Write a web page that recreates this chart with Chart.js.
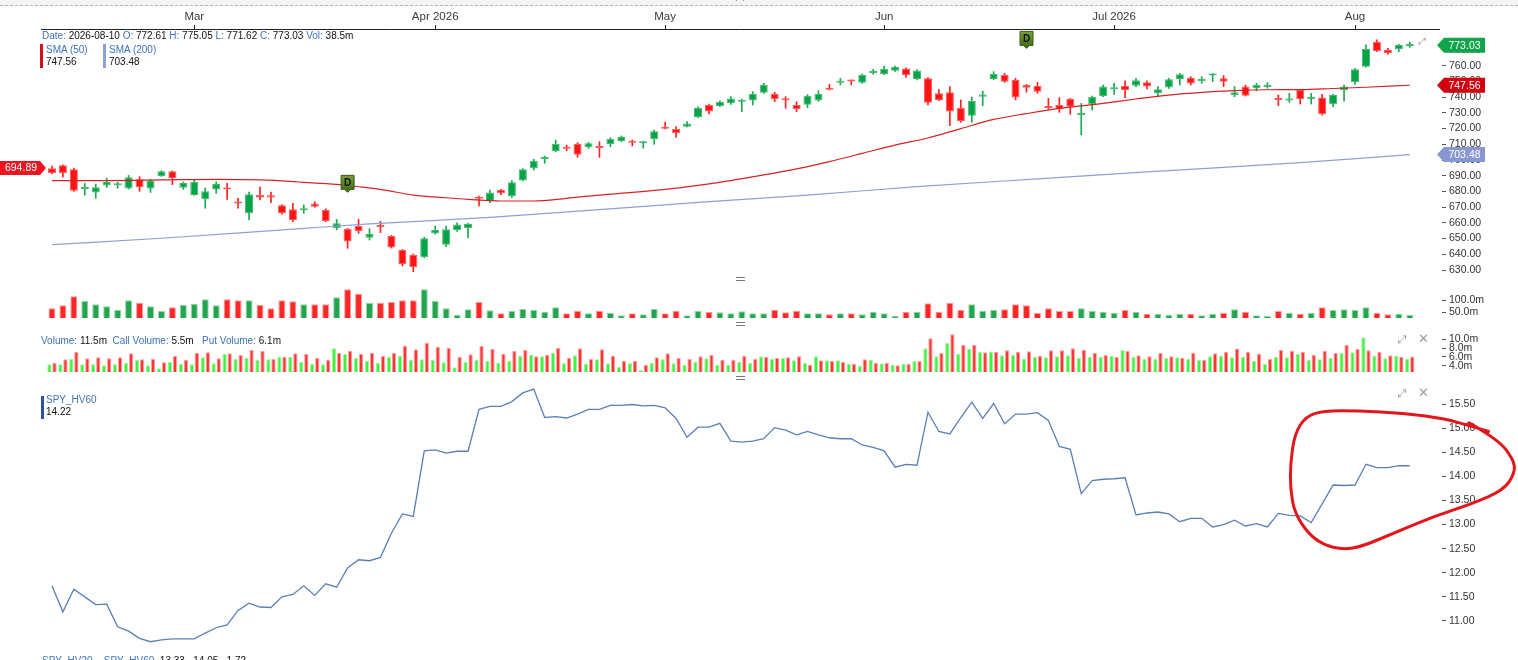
<!DOCTYPE html>
<html><head><meta charset="utf-8">
<script src="https://cdn.jsdelivr.net/npm/chart.js@4.4.1/dist/chart.umd.min.js"></script>
<style>
html,body{margin:0;padding:0;background:#fff;overflow:hidden}
body{width:1518px;height:660px;position:relative;font-family:"Liberation Sans",Arial,sans-serif}
canvas{position:absolute;left:0}
.t{position:absolute;font-size:10px;line-height:12px;color:#111;white-space:nowrap}
.b{color:#3d72b8}
.vb{position:absolute;width:3px}
.sep{position:absolute;left:736px;width:9px;height:2px;border-top:1.5px solid #777;border-bottom:1.5px solid #777}
.ic{position:absolute;color:#9a9a9a;font-family:"DejaVu Sans",sans-serif;font-size:11px;line-height:12px}
</style></head>
<body>
<div style="position:absolute;left:0;top:0;width:1518px;height:5px;background:#f4f4f4;border-bottom:1px dashed #b5b5b5"></div>
<div style="position:absolute;left:737px;top:-3px;width:5px;height:5px;border-left:1px solid #333;border-top:1px solid #333;transform:rotate(45deg)"></div>
<canvas id="cPrice" width="1518" height="282" style="top:0"></canvas>
<canvas id="cVol" width="1518" height="34" style="top:284px"></canvas>
<canvas id="cOpt" width="1518" height="42" style="top:330px"></canvas>
<canvas id="cHv" width="1518" height="276" style="top:384px"></canvas>

<div class="t" style="top:30px;left:42px"><span class="b">Date:</span> 2026-08-10 <span class="b">O:</span> 772.61 <span class="b">H:</span> 775.05 <span class="b">L:</span> 771.62 <span class="b">C:</span> 773.03 <span class="b">Vol:</span> 38.5m</div>
<div class="vb" style="left:40px;top:44px;height:24px;background:#d0101a"></div>
<div class="t b" style="top:44px;left:46px">SMA (50)</div>
<div class="t" style="top:56px;left:46px">747.56</div>
<div class="vb" style="left:103px;top:44px;height:24px;background:#8f9fd6"></div>
<div class="t b" style="top:44px;left:109px">SMA (200)</div>
<div class="t" style="top:56px;left:109px">703.48</div>
<div class="ic" style="left:1419px;top:35px;font-size:9px">⤢</div>

<div class="sep" style="top:277px"></div>
<div class="sep" style="top:322px"></div>
<div class="sep" style="top:376px"></div>

<div class="t" style="top:335px;left:41px"><span class="b">Volume:</span> 11.5m &nbsp;<span class="b">Call Volume:</span> 5.5m &nbsp; <span class="b">Put Volume:</span> 6.1m</div>
<div class="ic" style="left:1398px;top:334px">⤢</div>
<div class="ic" style="left:1418px;top:333px;font-size:13px">✕</div>

<div class="vb" style="left:41px;top:396px;height:23px;background:#2c5597"></div>
<div class="t b" style="top:394px;left:46px">SPY_HV60</div>
<div class="t" style="top:406px;left:46px">14.22</div>
<div class="ic" style="left:1398px;top:388px">⤢</div>
<div class="ic" style="left:1418px;top:387px;font-size:13px">✕</div>

<div class="t" style="top:655px;left:42px"><span class="b">SPY_HV20</span> &nbsp; &nbsp;<span class="b">SPY_HV60</span> &nbsp;13.33 &nbsp; 14.05 &nbsp; 1.72</div>

<script>
// ---------------- DATA ----------------
const dates = [
'2026-02-10','2026-02-11','2026-02-12','2026-02-13','2026-02-17','2026-02-18','2026-02-19','2026-02-20','2026-02-23','2026-02-24','2026-02-25','2026-02-26','2026-02-27',
'2026-03-02','2026-03-03','2026-03-04','2026-03-05','2026-03-06','2026-03-09','2026-03-10','2026-03-11','2026-03-12','2026-03-13','2026-03-16','2026-03-17','2026-03-18','2026-03-19','2026-03-20','2026-03-23','2026-03-24','2026-03-25','2026-03-26','2026-03-27','2026-03-30','2026-03-31',
'2026-04-01','2026-04-02','2026-04-06','2026-04-07','2026-04-08','2026-04-09','2026-04-10','2026-04-13','2026-04-14','2026-04-15','2026-04-16','2026-04-17','2026-04-20','2026-04-21','2026-04-22','2026-04-23','2026-04-24','2026-04-27','2026-04-28','2026-04-29','2026-04-30',
'2026-05-01','2026-05-04','2026-05-05','2026-05-06','2026-05-07','2026-05-08','2026-05-11','2026-05-12','2026-05-13','2026-05-14','2026-05-15','2026-05-18','2026-05-19','2026-05-20','2026-05-21','2026-05-22','2026-05-26','2026-05-27','2026-05-28','2026-05-29',
'2026-06-01','2026-06-02','2026-06-03','2026-06-04','2026-06-05','2026-06-08','2026-06-09','2026-06-10','2026-06-11','2026-06-12','2026-06-15','2026-06-16','2026-06-17','2026-06-18','2026-06-22','2026-06-23','2026-06-24','2026-06-25','2026-06-26','2026-06-29','2026-06-30',
'2026-07-01','2026-07-02','2026-07-06','2026-07-07','2026-07-08','2026-07-09','2026-07-10','2026-07-13','2026-07-14','2026-07-15','2026-07-16','2026-07-17','2026-07-20','2026-07-21','2026-07-22','2026-07-23','2026-07-24','2026-07-27','2026-07-28','2026-07-29','2026-07-30','2026-07-31',
'2026-08-03','2026-08-04','2026-08-05','2026-08-06','2026-08-07','2026-08-10'];

const monthLabels = {'03':'Mar','04':'Apr 2026','05':'May','06':'Jun','07':'Jul 2026','08':'Aug'};

const open = [
694.7,696.6,694.1,681.6,679.4,683.7,683.9,681.8,687.7,681.8,
689.8,692.8,682.4,677.7,675.0,681.3,682.2,673.5,666.1,677.7,
677.5,671.2,668.6,668.0,672.4,668.2,656.5,656.1,658.0,650.6,
658.6,651.6,642.7,639.6,638.1,653.3,646.1,655.5,656.5,676.5,
673.9,680.9,677.1,686.9,694.7,700.6,705.7,708.3,710.2,708.1,
708.9,710.2,712.1,711.9,710.6,713.4,720.8,719.7,721.2,727.4,
735.0,734.4,736.1,737.1,737.8,742.8,742.0,739.2,735.0,735.2,
737.8,745.6,749.2,750.7,749.2,755.4,754.7,756.8,758.2,751.6,
752.0,742.4,743.1,733.3,728.2,740.3,751.5,754.1,750.9,747.7,
747.3,733.9,735.0,738.8,728.6,735.4,740.7,745.0,747.3,747.3,
749.4,742.4,746.2,751.5,752.4,750.3,753.7,752.0,741.4,746.7,
745.6,746.4,739.2,737.8,744.5,738.6,739.7,735.4,744.5,749.4,
759.4,775.3,770.0,770.6,772.61];
const high = [
696.2,697.0,694.9,685.1,684.7,688.5,686.0,690.2,689.4,687.7,
693.2,693.0,686.0,687.3,682.2,686.2,685.1,675.6,679.6,683.0,
679.6,671.6,672.4,671.4,673.5,669.0,662.2,656.5,662.2,656.3,
661.0,652.0,643.0,640.2,650.8,658.0,658.0,660.1,659.7,677.0,
680.9,681.3,686.9,694.5,700.4,702.5,712.7,709.5,711.0,711.2,
711.7,714.2,715.3,712.7,711.9,719.1,724.2,721.2,724.4,733.9,
735.6,737.7,740.3,738.6,743.5,748.8,743.1,740.3,737.1,741.6,
744.1,748.1,752.0,751.0,754.7,757.7,759.8,759.8,758.6,757.5,
752.4,745.0,746.7,738.2,740.1,743.9,756.2,755.1,752.0,748.1,
749.4,739.2,739.7,739.2,736.0,740.7,747.7,748.8,750.3,752.0,
750.3,746.7,752.0,755.1,753.0,753.0,755.1,753.7,746.7,747.7,
748.8,749.2,741.4,742.4,745.0,742.4,741.8,741.8,747.7,758.3,
773.2,776.4,771.1,773.6,775.05];
const low = [
691.1,689.0,680.0,677.7,675.6,682.6,682.0,681.5,680.1,679.4,
689.6,684.3,681.3,677.5,669.3,678.8,675.0,669.3,661.8,674.6,
672.8,665.6,660.8,666.1,669.9,660.8,655.5,643.8,653.3,649.1,
653.8,644.0,632.6,628.9,637.9,652.9,644.9,654.6,650.4,670.8,
672.9,677.9,676.2,686.7,693.6,697.9,705.3,705.9,701.7,707.4,
701.7,708.5,711.7,708.9,707.6,710.0,719.7,714.4,721.0,726.9,
729.3,733.9,735.4,730.8,735.0,742.4,737.1,732.9,730.8,733.3,
737.3,744.5,747.7,747.7,748.8,754.5,754.3,756.4,752.5,750.9,
735.0,737.8,721.8,724.0,724.0,734.6,751.1,749.4,738.2,743.1,
742.4,732.4,730.3,729.1,715.9,731.8,740.3,741.8,739.7,746.7,
745.2,740.3,745.6,747.7,747.7,748.8,749.8,746.7,740.3,740.7,
743.9,745.6,734.6,736.7,735.6,735.6,728.6,733.9,737.5,748.1,
759.0,768.9,767.4,768.9,771.62];
const close = [
691.5,691.5,680.5,681.9,682.6,686.0,684.7,689.0,682.6,686.9,
692.8,688.5,685.4,686.0,680.1,684.7,681.3,672.4,678.2,676.2,
676.2,666.1,661.8,668.8,670.3,661.2,659.7,648.2,654.6,652.9,
657.2,644.4,633.6,631.7,650.2,655.5,655.9,658.9,659.3,675.3,
679.4,678.8,685.8,694.1,699.6,701.7,710.2,707.2,703.4,710.6,
707.6,713.6,714.6,711.0,711.7,718.3,719.9,717.0,723.3,733.3,
730.8,737.1,739.2,738.2,742.0,747.9,738.6,738.0,732.5,740.9,
742.0,744.7,750.3,749.9,754.1,756.2,758.1,759.4,754.0,757.0,
736.5,738.2,730.8,724.8,737.5,741.6,754.7,749.8,739.7,746.0,
743.5,733.1,732.4,733.9,729.5,740.3,746.7,746.0,744.5,750.7,
746.7,745.0,751.3,754.5,748.6,751.3,754.5,749.8,743.1,740.9,
747.7,747.3,738.2,738.6,738.6,740.3,729.1,741.4,746.7,757.7,
770.6,769.4,767.9,773.2,773.03];

// volume (millions)
const volume = [
65.2,77.7,115.2,95.8,81.9,73.6,58.3,98.6,88.9,73.6,
54.1,69.4,80.5,84.7,102.7,77.7,102.7,98.6,98.6,80.5,
65.2,98.6,94.4,81.9,81.9,81.9,111.1,144.4,126.4,88.9,
88.9,91.6,98.6,98.6,144.4,95.8,65.2,38.9,61.1,92.0,
57.5,44.4,54.1,62.5,58.3,51.4,69.4,44.4,55.5,44.4,
55.5,47.2,36.1,44.4,40.2,62.5,44.4,55.5,36.1,55.5,
51.4,48.6,44.4,52.7,44.4,44.4,59.7,48.6,55.5,44.4,
44.4,40.2,44.4,44.4,40.2,51.4,44.4,33.3,51.4,51.4,
86.1,51.4,88.9,59.7,81.9,55.5,58.3,61.1,81.9,77.7,
47.2,65.2,54.1,54.1,65.2,54.1,51.4,47.2,58.3,51.4,
43.0,43.0,38.9,43.0,43.0,36.1,43.0,47.2,61.1,51.4,
36.1,33.3,54.1,47.2,43.0,47.2,69.4,58.3,61.1,58.3,
69.4,47.2,40.2,43.0,38.5];

// option volume (millions)
const callVolume = [
4.31,4.31,5.53,4.31,4.31,4.09,4.31,4.69,5.30,4.09,
3.40,4.85,4.39,4.31,5.90,4.54,6.66,5.53,5.83,5.30,
5.45,6.06,6.06,4.92,4.39,4.31,7.95,6.66,5.75,5.07,
4.69,6.06,6.28,5.30,5.45,5.30,4.77,3.63,4.85,5.30,
5.10,4.69,5.07,6.28,6.44,6.13,6.97,4.54,6.36,4.47,
5.45,4.54,3.71,4.54,3.02,4.69,5.45,4.54,4.16,4.92,
5.68,4.16,4.16,4.92,4.69,6.13,5.53,5.75,5.22,4.69,
6.13,5.22,5.22,4.47,4.01,5.30,4.54,4.24,4.47,5.07,
7.95,6.13,9.16,6.74,7.80,7.12,7.23,6.36,6.44,5.60,
5.98,5.90,6.13,6.36,5.75,5.98,5.98,6.21,7.57,6.06,
5.53,5.60,5.83,5.90,5.53,5.30,6.13,6.28,5.90,6.06,
5.07,4.39,5.98,5.90,6.66,5.30,5.45,5.75,6.89,7.04,
10.45,6.28,5.68,6.28,5.5];
const putVolume = [
4.62,5.45,7.12,5.68,5.90,5.68,5.90,6.82,5.45,5.60,
4.77,6.21,5.30,6.97,7.04,5.68,6.82,6.44,7.57,7.34,
5.53,6.06,6.82,6.66,5.75,5.30,6.97,7.42,6.74,6.97,
6.21,6.97,8.56,7.72,9.24,8.33,8.10,6.06,6.59,8.50,
7.85,6.74,7.34,7.57,6.13,6.51,8.03,5.75,7.95,5.53,
7.72,6.28,5.15,5.15,4.24,5.90,6.82,5.75,5.53,6.13,
6.44,5.30,5.30,6.28,5.60,5.98,5.75,5.90,6.13,4.16,
5.22,5.07,4.85,4.47,5.45,4.69,4.69,4.09,4.47,5.07,
10.22,6.89,11.13,8.78,8.78,7.04,7.15,7.49,7.12,7.27,
6.28,7.49,7.49,7.95,7.65,6.97,6.44,5.98,7.34,6.36,
6.13,6.97,6.13,5.83,6.97,5.30,6.82,7.12,7.88,7.12,
6.74,5.53,7.57,7.42,7.19,6.51,7.42,6.89,8.78,7.80,
7.49,7.12,6.36,6.06,6.1];

const hv60 = [
11.73,11.19,11.66,11.50,11.34,11.35,10.88,10.79,10.64,10.57,
10.61,10.63,10.63,10.63,10.75,10.86,10.92,11.22,11.37,11.29,
11.28,11.50,11.55,11.73,11.53,11.77,11.70,12.10,12.27,12.25,
12.32,12.82,13.22,13.17,14.53,14.55,14.48,14.52,14.52,15.39,
15.45,15.45,15.55,15.73,15.81,15.22,15.24,15.21,15.29,15.39,
15.39,15.47,15.47,15.49,15.46,15.47,15.42,15.20,14.81,15.02,
15.02,15.10,14.73,14.71,14.73,14.78,15.01,14.96,14.86,14.93,
14.86,14.80,14.78,14.78,14.65,14.60,14.53,14.19,14.25,14.23,
15.33,14.93,14.88,15.22,15.54,15.20,15.51,15.09,15.29,15.29,
15.32,15.16,14.62,14.56,13.64,13.91,13.94,13.95,13.97,13.20,
13.24,13.26,13.22,13.06,13.13,13.13,12.95,13.00,13.09,12.97,
13.02,12.95,13.23,13.19,13.18,13.04,13.43,13.82,13.81,13.82,
14.25,14.18,14.18,14.22,14.22];

// moving averages read at sampled candles: [candle index, value]
const sma50 = [[0,686.9],[5,686.9],[10,687.3],[15,687.7],[19,687.3],[23,685.8],[26,684.5],[28,683.0],[30,681.3],[33,677.7],[36,676.0],[38,675.0],[41,673.9],[44,673.9],[47,675.6],[50,677.7],[53,679.4],[56,681.3],[59,683.9],[62,686.9],[65,690.5],[68,694.3],[71,699.0],[74,704.2],[77,709.5],[80,714.0],[83,720.0],[86,725.8],[89,729.5],[92,732.8],[96,736.0],[99,738.8],[102,741.3],[105,743.0],[108,744.1],[111,744.7],[114,744.8],[117,745.5],[120,746.3],[124,747.56]];
const sma200 = [[0,646.1],[10,650.2],[23,656.5],[29,659.3],[40,663.5],[50,668.4],[60,673.5],[69,677.7],[79,683.0],[90,688.0],[100,692.5],[114,698.3],[124,703.48]];

const dividendIdx = [27, 89];
const leftTagValue = 694.89;

const priceTicks = [630,640,650,660,670,680,690,700,710,720,730,740,750,760,770];
const volTicks = [50,100];
const optTicks = [4,6,8,10];
const hvTicks = [11,11.5,12,12.5,13,13.5,14,14.5,15,15.5];

// hand-drawn red ellipse on the HV panel, in [candle index, HV value]
const hvCircle = [[129.4,15.11],[132.1,14.76],[133.5,14.34],[133.6,14.07],[132.6,13.72],[129.8,13.44],[126.2,13.17],[122.5,12.82],[119.7,12.55],[117.9,12.48],[116.1,12.58],[114.7,12.82],[113.5,13.24],[113.1,13.72],[113.1,14.27],[113.5,14.89],[114.5,15.24],[116.1,15.36],[119.3,15.36],[123.4,15.31],[127.1,15.20],[129.8,15.03],[131.2,14.93]];

// ---------------- CHARTS ----------------
Chart.defaults.font.family = '"Liberation Sans", Arial, sans-serif';
Chart.defaults.animation = false;
Chart.defaults.events = [];
Chart.defaults.plugins.legend.display = false;
Chart.defaults.plugins.tooltip.enabled = false;

const N = dates.length;
const idx = dates.map((d, i) => i);
const up = idx.map(i => close[i] >= open[i]);
const monthStarts = idx.filter(i => i > 0 && dates[i].slice(5, 7) !== dates[i - 1].slice(5, 7));

function xAxis(extra) {
  return Object.assign({
    type: 'linear', min: -1, max: 126.67, offset: false, display: false, bounds: 'data',
    grid: {offset: false},
    afterFit(s) { s.paddingLeft = 0; s.paddingRight = 0; }
  }, extra || {});
}
function yAxis(min, max, ticks, fmt) {
  return {
    type: 'linear', position: 'right', min, max, bounds: 'data', beginAtZero: false,
    border: {display: false},
    grid: {drawOnChartArea: false, drawTicks: true, tickLength: 7, color: '#555', tickBorderDash: [0, 3, 4, 20]},
    ticks: {color: '#333', font: {size: 10.5}, padding: 3, autoSkip: false, callback: fmt},
    afterBuildTicks(s) { s.ticks = ticks.map(v => ({value: v})); },
    afterFit(s) { s.width = 79; s.paddingTop = 0; s.paddingBottom = 0; }
  };
}
const baseOpts = {responsive: false, maintainAspectRatio: false, layout: {padding: {left: 41, right: 0, top: 0, bottom: 0}}};

function tagLeft(ctx, tipX, py, text, color) {
  const h = 15, a = 7, w = 41;
  ctx.beginPath();
  ctx.moveTo(tipX, py);
  ctx.lineTo(tipX + a, py - h / 2);
  ctx.lineTo(tipX + a + w, py - h / 2);
  ctx.lineTo(tipX + a + w, py + h / 2);
  ctx.lineTo(tipX + a, py + h / 2);
  ctx.closePath();
  ctx.fillStyle = color; ctx.fill();
  ctx.fillStyle = '#fff'; ctx.font = '10.5px "Liberation Sans", Arial'; ctx.textAlign = 'center'; ctx.textBaseline = 'middle';
  ctx.fillText(text, tipX + a + w / 2, py + 0.5);
}
function tagRight(ctx, tipX, py, text, color) {
  const h = 14, a = 6, w = tipX - a;
  ctx.beginPath();
  ctx.moveTo(0, py - h / 2);
  ctx.lineTo(w, py - h / 2);
  ctx.lineTo(tipX, py);
  ctx.lineTo(w, py + h / 2);
  ctx.lineTo(0, py + h / 2);
  ctx.closePath();
  ctx.fillStyle = color; ctx.fill();
  ctx.fillStyle = '#fff'; ctx.font = '10.5px "Liberation Sans", Arial'; ctx.textAlign = 'center'; ctx.textBaseline = 'middle';
  ctx.fillText(text, w / 2 + 1, py + 0.5);
}
function drawD(ctx, px, tip) {
  const w = 13, h = 14, top = tip - 3 - h;
  const g = ctx.createLinearGradient(0, top, 0, top + h);
  g.addColorStop(0, '#789f3c'); g.addColorStop(1, '#44701a');
  ctx.beginPath();
  ctx.moveTo(px - w / 2, top); ctx.lineTo(px + w / 2, top); ctx.lineTo(px + w / 2, top + h);
  ctx.lineTo(px + 3, top + h); ctx.lineTo(px, tip); ctx.lineTo(px - 3, top + h);
  ctx.lineTo(px - w / 2, top + h); ctx.closePath();
  ctx.fillStyle = g; ctx.fill();
  ctx.strokeStyle = '#3a5c14'; ctx.lineWidth = 1; ctx.stroke();
  ctx.fillStyle = '#111'; ctx.font = 'bold 10px "Liberation Sans", Arial'; ctx.textAlign = 'center'; ctx.textBaseline = 'middle';
  ctx.fillText('D', px, top + h / 2 + 0.5);
}

const pricePlugin = {
  id: 'priceOverlay',
  afterDraw(chart) {
    const {ctx, chartArea} = chart;
    const x = chart.scales.x, y = chart.scales.y;
    ctx.save();
    dividendIdx.forEach(i => drawD(ctx, x.getPixelForValue(i), y.getPixelForValue(high[i]) - 36));
    const s200 = sma200[sma200.length - 1][1], s50 = sma50[sma50.length - 1][1];
    tagLeft(ctx, chartArea.right - 2, y.getPixelForValue(s200), s200.toFixed(2), '#8897d1');
    tagLeft(ctx, chartArea.right - 2, y.getPixelForValue(s50), s50.toFixed(2), '#d3000f');
    tagLeft(ctx, chartArea.right - 2, y.getPixelForValue(close[N - 1]), close[N - 1].toFixed(2), '#10a54a');
    tagRight(ctx, 46, y.getPixelForValue(leftTagValue), leftTagValue.toFixed(2), '#ee1520');
    ctx.restore();
  }
};

new Chart(document.getElementById('cPrice'), {
  type: 'bar',
  data: {datasets: [
    {type: 'line', data: sma50.map(([i, v]) => ({x: i, y: v})), borderColor: '#d62222', borderWidth: 1.2, pointRadius: 0, cubicInterpolationMode: 'monotone', order: 0},
    {type: 'line', data: sma200.map(([i, v]) => ({x: i, y: v})), borderColor: '#8e9ed6', borderWidth: 1.2, pointRadius: 0, cubicInterpolationMode: 'monotone', order: 0},
    {type: 'bar', data: idx.map(i => ({x: i, y: [open[i], close[i]]})),
      backgroundColor: up.map(u => u ? '#06a446' : '#ff1414'), borderColor: up.map(u => u ? '#45bb70' : '#ff5a5a'),
      borderWidth: 1, borderSkipped: false, grouped: false, categoryPercentage: 0.8, barPercentage: 0.92, minBarLength: 2, order: 1},
    {type: 'bar', data: idx.map(i => ({x: i, y: [low[i], high[i]]})),
      backgroundColor: up.map(u => u ? '#1aa850' : '#ff2020'), barThickness: 1, grouped: false, order: 2}
  ]},
  options: Object.assign({}, baseOpts, {
    scales: {
      x: xAxis({
        display: true, position: 'top',
        border: {display: true, color: '#222', width: 1},
        grid: {offset: false, drawOnChartArea: false, drawTicks: true, tickLength: 4, color: '#222'},
        ticks: {color: '#3a3a3a', font: {size: 11.5}, padding: 1, autoSkip: false, maxRotation: 0,
          callback: v => monthLabels[dates[v].slice(5, 7)]},
        afterBuildTicks(s) { s.ticks = monthStarts.map(v => ({value: v})); },
        afterFit(s) { s.height = 29; s.paddingLeft = 0; s.paddingRight = 0; }
      }),
      y: yAxis(622.38, 783.35, priceTicks, v => v.toFixed(2))
    }
  }),
  plugins: [pricePlugin]
});

new Chart(document.getElementById('cVol'), {
  type: 'bar',
  data: {datasets: [{data: idx.map(i => ({x: i, y: volume[i]})),
    backgroundColor: up.map(u => u ? '#22a54c' : '#ff2626'), borderColor: up.map(u => u ? '#8fd6a6' : '#ff9c9c'),
    borderWidth: 1, borderSkipped: false, categoryPercentage: 0.75, barPercentage: 0.85}]},
  options: Object.assign({}, baseOpts, {
    scales: {x: xAxis(), y: yAxis(25, 166.7, volTicks, v => v.toFixed(1) + 'm')}
  })
});

new Chart(document.getElementById('cOpt'), {
  type: 'bar',
  data: {datasets: [
    {data: idx.map(i => ({x: i, y: callVolume[i]})), backgroundColor: '#3ef23e', borderColor: '#9ff59f', borderWidth: 1, borderSkipped: false, categoryPercentage: 0.92, barPercentage: 0.86},
    {data: idx.map(i => ({x: i, y: putVolume[i]})), backgroundColor: '#ff3535', borderColor: '#ffa0a0', borderWidth: 1, borderSkipped: false, categoryPercentage: 0.92, barPercentage: 0.86}
  ]},
  options: Object.assign({}, baseOpts, {
    scales: {x: xAxis(), y: yAxis(2.57, 12.11, optTicks, v => v.toFixed(1) + 'm')}
  })
});

const hvPlugin = {
  id: 'hvCircle',
  afterDraw(chart) {
    const {ctx} = chart; const x = chart.scales.x, y = chart.scales.y;
    const p = hvCircle.map(([i, v]) => [x.getPixelForValue(i), y.getPixelForValue(v)]);
    ctx.save();
    ctx.beginPath();
    ctx.moveTo(p[0][0], p[0][1]);
    for (let k = 1; k < p.length - 1; k++) {
      const mx = (p[k][0] + p[k + 1][0]) / 2, my = (p[k][1] + p[k + 1][1]) / 2;
      ctx.quadraticCurveTo(p[k][0], p[k][1], mx, my);
    }
    ctx.lineTo(p[p.length - 1][0], p[p.length - 1][1]);
    ctx.strokeStyle = '#e3161b'; ctx.lineWidth = 3; ctx.lineCap = 'round'; ctx.lineJoin = 'round';
    ctx.stroke();
    ctx.restore();
  }
};

new Chart(document.getElementById('cHv'), {
  type: 'line',
  data: {datasets: [{data: idx.map(i => ({x: i, y: hv60[i]})), borderColor: '#5a7fb9', borderWidth: 1.3, pointRadius: 0, tension: 0}]},
  options: Object.assign({}, baseOpts, {
    scales: {x: xAxis(), y: yAxis(10.191, 15.915, hvTicks, v => v.toFixed(2))}
  }),
  plugins: [hvPlugin]
});
</script>
</body></html>
